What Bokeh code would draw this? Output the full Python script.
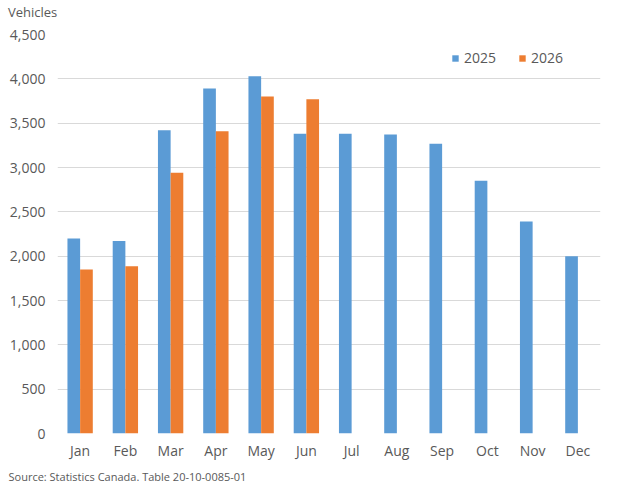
from bokeh.plotting import figure
from bokeh.models import (ColumnDataSource, FactorRange, Range1d, FixedTicker,
                          NumeralTickFormatter, Legend, LegendItem, Title, Div)
from bokeh.layouts import column
from bokeh.transform import dodge
from bokeh.embed import file_html
from bokeh.resources import INLINE

months = ["Jan", "Feb", "Mar", "Apr", "May", "Jun", "Jul", "Aug", "Sep", "Oct", "Nov", "Dec"]
months_2026 = ["Jan", "Feb", "Mar", "Apr", "May", "Jun"]
vals_2025 = [2200, 2170, 3420, 3890, 4030, 3380, 3380, 3372, 3267, 2850, 2391, 2000]
vals_2026 = [1850, 1885, 2940, 3410, 3800, 3770]
y_ticks = [0, 500, 1000, 1500, 2000, 2500, 3000, 3500, 4000, 4500]

FONT = "Open Sans"
GRAY = "#595959"
BLUE = "#5B9BD5"
ORANGE = "#ED7D31"

src25 = ColumnDataSource(dict(month=months, v=vals_2025))
src26 = ColumnDataSource(dict(month=months_2026, v=vals_2026))

p = figure(width=632, height=462, output_backend="svg", toolbar_location=None,
           x_range=FactorRange(*months), y_range=Range1d(0, 4500),
           min_border_left=57, min_border_right=32, min_border_top=9,
           min_border_bottom=40)
p.outline_line_color = None
p.background_fill_color = "white"
p.border_fill_color = "white"

r25 = p.vbar(x=dodge("month", -0.14, range=p.x_range), top="v", width=0.28,
             source=src25, fill_color=BLUE, line_color=None)
r26 = p.vbar(x=dodge("month", 0.14, range=p.x_range), top="v", width=0.28,
             source=src26, fill_color=ORANGE, line_color=None)

p.yaxis.ticker = FixedTicker(ticks=y_ticks)
p.yaxis.formatter = NumeralTickFormatter(format="0,0")
for ax in (p.xaxis[0], p.yaxis[0]):
    ax.axis_line_color = None
    ax.major_tick_line_color = None
    ax.minor_tick_line_color = None
    ax.major_tick_out = 0
    ax.major_tick_in = 0
    ax.minor_tick_out = 0
    ax.major_label_text_font = FONT
    ax.major_label_text_color = GRAY
    ax.major_label_text_font_size = "14px"
p.yaxis.major_label_standoff = 12
p.xaxis.major_label_standoff = 7
p.xgrid.grid_line_color = None
p.ygrid.grid_line_color = "#d9d9d9"
p.ygrid.grid_line_width = 1

legend = Legend(items=[LegendItem(label="2025", renderers=[r25]),
                       LegendItem(label="2026", renderers=[r26])],
                orientation="horizontal", location=(394, 366),
                glyph_width=8, glyph_height=8, label_standoff=5, spacing=22,
                padding=0, margin=0, border_line_color=None,
                background_fill_alpha=0,
                label_text_font=FONT, label_text_color=GRAY,
                label_text_font_size="14px")
p.add_layout(legend, "center")

p.add_layout(Title(text="Source: Statistics Canada. Table 20-10-0085-01",
                   align="left", offset=-49, standoff=8,
                   text_font=FONT, text_color=GRAY, text_font_size="11px",
                   text_font_style="normal"), "below")

head = Div(text="Vehicles", width=624, height=25, margin=0,
           styles={"font-family": FONT, "font-size": "13px", "color": GRAY,
                   "line-height": "24px", "padding-left": "8px"})

layout = column(head, p, spacing=0)
open("out.html", "w").write(file_html(layout, INLINE))
